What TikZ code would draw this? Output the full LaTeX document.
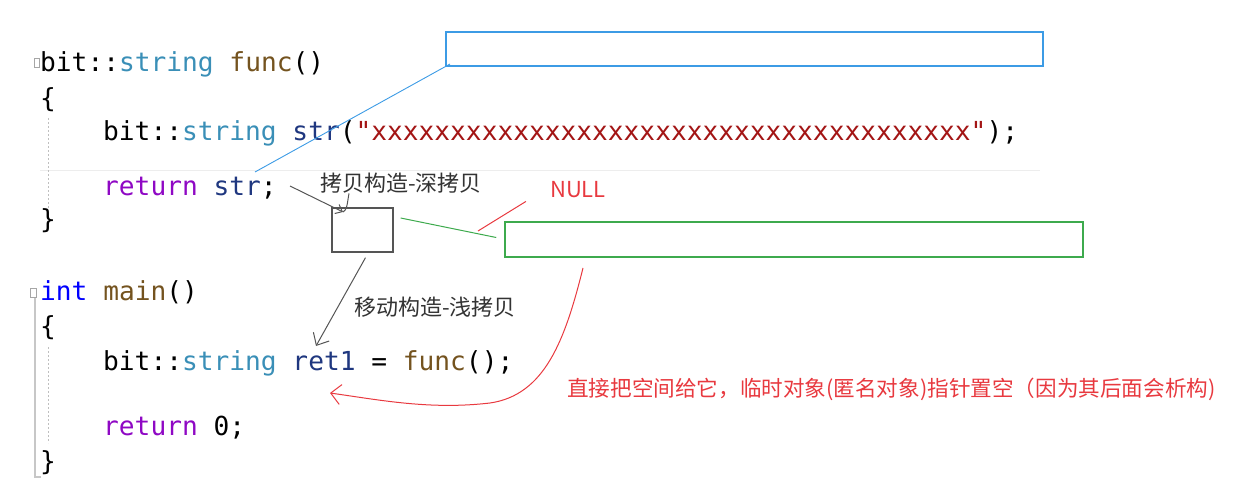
\documentclass[tikz,border=0pt]{standalone}
\usepackage{fontspec}
\setmonofont{DejaVu Sans Mono}
\newfontfamily\cjk{Noto Sans CJK SC}
\usetikzlibrary{arrows.meta}
\definecolor{cty}{HTML}{3A8FB7}
\definecolor{cfn}{HTML}{74531F}
\definecolor{cva}{HTML}{1F377F}
\definecolor{cst}{HTML}{A31515}
\definecolor{ckw}{HTML}{8F08C4}
\definecolor{ckb}{HTML}{0000FF}
\definecolor{cblue}{HTML}{3C9BE5}
\definecolor{cgreen}{HTML}{3DAA4D}
\definecolor{cred}{HTML}{E8393F}
\definecolor{cgray}{HTML}{555555}
\newcommand\codefont{\ttfamily\fontsize{26.2}{30}\selectfont}
\newcommand\cTy[1]{\textcolor{cty}{#1}}
\newcommand\cFn[1]{\textcolor{cfn}{#1}}
\newcommand\cVa[1]{\textcolor{cva}{#1}}
\newcommand\cSt[1]{\textcolor{cst}{#1}}
\newcommand\cKw[1]{\textcolor{ckw}{#1}}
\newcommand\cKb[1]{\textcolor{ckb}{#1}}
\begin{document}
\begin{tikzpicture}[x=1pt,y=-1pt,
  code/.style={anchor=base west, inner sep=0, font=\codefont, text=black},
  lab/.style={inner sep=0, font=\cjk\fontsize{22}{24}\selectfont, text=#1},
  gutter/.style={draw=black!22, line width=2pt},
  guide/.style={draw=black!25, line width=1pt, dash pattern=on 2pt off 2pt},
  frame/.style={draw=#1, inner sep=0, fill=none},
  hand/.style={draw=#1, line width=1pt}]
\useasboundingbox (0,0) rectangle (1255,500);
% faint current-line marker
\draw[black!7, line width=0.8pt] (40,170) -- (1040,170);
% gutter
\draw[gutter] (35,297) -- (35,477) -- (41,477);
\draw[black!35, line width=0.6pt] (30.5,288) rectangle (36,297);
\draw[black!35, line width=0.6pt] (34.5,58) rectangle (39,67);
\draw[guide] (48,118) -- (48,210);
\draw[guide] (48,347) -- (48,443);
% code
\node[code] (l1) at (40,72) {bit::\cTy{string} \cFn{func}()};
\node[code] (l2) at (40,108) {\{};
\node[code] (l3) at (103,141) {bit::\cTy{string} \cVa{str}(\cSt{"xxxxxxxxxxxxxxxxxxxxxxxxxxxxxxxxxxxxxx"});};
\node[code] (l4) at (103,195) {\cKw{return} \cVa{str};};
\node[code] (l5) at (40,228) {\}};
\node[code] (l6) at (40,300) {\cKb{int} \cFn{main}()};
\node[code] (l7) at (40,335) {\{};
\node[code] (l8) at (103,370) {bit::\cTy{string} \cVa{ret1} = \cFn{func}();};
\node[code] (l9) at (103,435) {\cKw{return} 0;};
\node[code] (l10) at (40,470) {\}};
% boxes
\node[frame=cblue, line width=2pt, minimum width=597pt, minimum height=34pt] (blue) at (744.5,49) {};
\node[frame=cgreen, line width=1.6pt, minimum width=578pt, minimum height=35pt] (green) at (794,239.5) {};
\node[frame=cgray, line width=1.3pt, minimum width=61pt, minimum height=44pt] (gbox) at (362.5,230) {};
% labels
\node[lab=black!80] (lab1) at (401,183) {拷贝构造-深拷贝};
\node[lab=black!80] (lab2) at (435,307) {移动构造-浅拷贝};
\node[lab=cred] (null) at (578,190) {NULL};
\node[lab=cred, anchor=west, font=\cjk\fontsize{21.6}{24}\selectfont] (note) at (567,389) {直接把空间给它，临时对象(匿名对象)指针置空（因为其后面会析构)};
% connectors
\coordinate (bs) at (255,172);
\draw[hand=cblue, line width=0.9pt] (bs) -- ([shift={(5,-3)}]blue.south west);
\coordinate (cs) at (290,186);
\coordinate (ce) at (343,212);
\draw[hand=cgray, -{Straight Barb[length=6pt,width=10pt]}] (cs) -- (ce);
\draw[hand=cgray] ([shift={(-52,0)}]lab1.south) .. controls (347,205) and (347,210) .. (ce);
\draw[hand=cgreen] ([shift={(7,-12)}]gbox.east) -- ([shift={(-8,-2)}]green.west);
\draw[hand=cred] ([shift={(-24,3)}]null.south west) -- (478,231);
\coordinate (ge) at (316,346);
\draw[hand=cgray, -{Straight Barb[length=10pt,width=18pt]}] ([shift={(3,5)}]gbox.south) -- (ge);
\coordinate (rs) at (583,268);
\coordinate (re) at (330,393);
\draw[hand=cred, -{Straight Barb[length=10pt,width=20pt]}] (rs) .. controls (565,340) and (545,395) .. (490,403) .. controls (430,410) and (380,400) .. (re);
\end{tikzpicture}
\end{document}
